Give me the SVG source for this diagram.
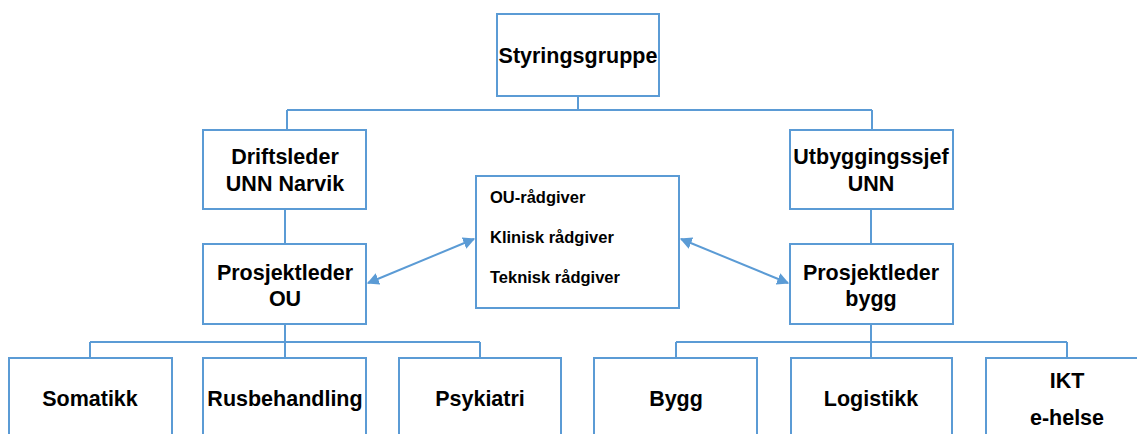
<svg xmlns="http://www.w3.org/2000/svg" width="1137" height="434" viewBox="0 0 1137 434">
<style>
.box{fill:#fff;stroke:#5B9BD5;stroke-width:2}
.t{font-family:"Liberation Sans",Arial,sans-serif;font-weight:bold;font-size:21.5px;fill:#000;text-anchor:middle}
.s{font-family:"Liberation Sans",Arial,sans-serif;font-weight:bold;font-size:16.5px;fill:#000}
.c{fill:none;stroke:#5B9BD5;stroke-width:2}
</style>
<defs>
<marker id="ah" viewBox="0 0 10 10" refX="9" refY="5" markerWidth="6" markerHeight="6" orient="auto-start-reverse">
<path d="M0,0 L10,5 L0,10 z" fill="#5B9BD5"/>
</marker>
</defs>
<g id="connectors">
<path class="c" d="M578,96 V110 M287,110 H872 M287,110 V130 M872,110 V130"/>
<path class="c" d="M285,209 V244 M871,209 V244"/>
<path class="c" d="M285,324 V342 M90,342 H480 M90,342 V358 M285,342 V358 M480,342 V358"/>
<path class="c" d="M871,324 V342 M676,342 H1067 M676,342 V358 M871,342 V358 M1067,342 V358"/>
<line class="c" x1="474" y1="239" x2="368" y2="283" marker-start="url(#ah)" marker-end="url(#ah)"/>
<line class="c" x1="681" y1="239" x2="788" y2="283" marker-start="url(#ah)" marker-end="url(#ah)"/>
</g>
<g id="styringsgruppe"><rect class="box" x="497" y="14" width="162" height="82"/><text class="t" x="578" y="63">Styringsgruppe</text></g>
<g id="driftsleder"><rect class="box" x="203" y="130" width="163" height="79"/><text class="t" x="285" y="164">Driftsleder</text><text class="t" x="285" y="191">UNN Narvik</text></g>
<g id="utbyggingssjef"><rect class="box" x="790" y="130" width="163" height="79"/><text class="t" x="871" y="164">Utbyggingssjef</text><text class="t" x="871" y="191">UNN</text></g>
<g id="pl-ou"><rect class="box" x="203" y="244" width="163" height="80"/><text class="t" x="285" y="280">Prosjektleder</text><text class="t" x="285" y="306">OU</text></g>
<g id="pl-bygg"><rect class="box" x="790" y="244" width="163" height="80"/><text class="t" x="871" y="280">Prosjektleder</text><text class="t" x="871" y="306">bygg</text></g>
<g id="radgivere"><rect class="box" x="476" y="176" width="203" height="132"/><text class="s" x="490" y="203">OU-rådgiver</text><text class="s" x="490" y="243">Klinisk rådgiver</text><text class="s" x="490" y="283">Teknisk rådgiver</text></g>
<g id="somatikk"><rect class="box" x="9" y="358" width="163" height="90"/><text class="t" x="90" y="406">Somatikk</text></g>
<g id="rusbehandling"><rect class="box" x="203" y="358" width="163" height="90"/><text class="t" x="285" y="406">Rusbehandling</text></g>
<g id="psykiatri"><rect class="box" x="399" y="358" width="162" height="90"/><text class="t" x="480" y="406">Psykiatri</text></g>
<g id="bygg"><rect class="box" x="594" y="358" width="163" height="90"/><text class="t" x="676" y="406">Bygg</text></g>
<g id="logistikk"><rect class="box" x="791" y="358" width="161" height="90"/><text class="t" x="871" y="406">Logistikk</text></g>
<g id="ikt"><rect class="box" x="986" y="358" width="163" height="90"/><text class="t" x="1067" y="388">IKT</text><text class="t" x="1067" y="425">e-helse</text></g>
</svg>
